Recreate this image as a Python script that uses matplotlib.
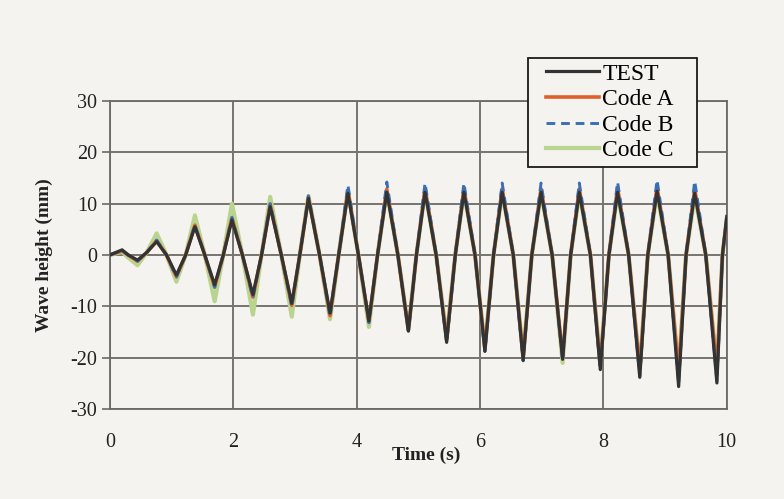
import matplotlib
matplotlib.use("Agg")
import matplotlib.pyplot as plt
from matplotlib.lines import Line2D
from matplotlib.legend_handler import HandlerLine2D

# Temps des points (extrema et passages à zéro)
time_s = [0.0, 0.1, 0.2, 0.3, 0.45, 0.6, 0.76, 0.92, 1.08, 1.23, 1.38, 1.54, 1.70, 1.84,
          1.98, 2.15, 2.32, 2.46, 2.60, 2.78, 2.95, 3.08, 3.22, 3.40, 3.57, 3.71,
          3.86, 4.03, 4.20, 4.34, 4.49, 4.67, 4.84, 4.97, 5.11, 5.29, 5.46, 5.60,
          5.74, 5.92, 6.08, 6.22, 6.36, 6.54, 6.70, 6.84, 6.99, 7.17, 7.34, 7.47,
          7.61, 7.79, 7.95, 8.09, 8.23, 8.41, 8.59, 8.72, 8.87, 9.05, 9.22, 9.34,
          9.48, 9.66, 9.84, 9.93, 10.0]

test = [0.0, 0.5, 1.0, 0.0, -1.0, 0.5, 2.6, 0.0, -3.9, 0.0, 5.5, 0.0, -5.8, 0.0,
        6.8, 0.0, -7.7, 0.0, 9.4, 0.0, -9.4, 0.0, 11.0, 0.0, -11.3, 0.0,
        12.0, 0.0, -12.8, 0.0, 12.2, 0.0, -14.8, 0.0, 12.2, 0.0, -17.0, 0.0,
        12.2, 0.0, -18.7, 0.0, 12.2, 0.0, -20.5, 0.0, 12.2, 0.0, -20.3, 0.0,
        12.2, 0.0, -22.3, 0.0, 12.2, 0.0, -23.8, 0.0, 12.4, 0.0, -25.6, 0.0,
        12.0, 0.0, -24.9, 0.0, 7.5]

code_a = [0.0, 0.4, 0.8, 0.0, -1.2, 0.5, 2.8, 0.0, -4.2, 0.0, 5.8, 0.0, -6.2, 0.0,
          7.2, 0.0, -8.2, 0.0, 9.8, 0.0, -9.8, 0.0, 11.2, 0.0, -11.8, 0.0,
          12.6, 0.0, -13.0, 0.0, 12.8, 0.0, -14.6, 0.0, 12.9, 0.0, -16.5, 0.0,
          12.9, 0.0, -18.2, 0.0, 12.9, 0.0, -20.0, 0.0, 12.9, 0.0, -20.0, 0.0,
          12.9, 0.0, -21.5, 0.0, 13.0, 0.0, -22.3, 0.0, 13.2, 0.0, -23.0, 0.0,
          12.8, 0.0, -22.5, 0.0, 7.0]

code_b = [0.0, 0.4, 0.8, 0.0, -1.2, 0.5, 2.9, 0.0, -4.3, 0.0, 5.9, 0.0, -6.3, 0.0,
          7.3, 0.0, -8.3, 0.0, 10.0, 0.0, -10.0, 0.0, 11.5, 0.0, -12.0, 0.0,
          13.6, 0.0, -13.2, 0.0, 14.2, 0.0, -14.8, 0.0, 14.0, 0.0, -17.0, 0.0,
          14.0, 0.0, -18.8, 0.0, 14.0, 0.0, -20.6, 0.0, 14.0, 0.0, -20.5, 0.0,
          14.0, 0.0, -22.4, 0.0, 14.2, 0.0, -23.6, 0.0, 14.6, 0.0, -25.0, 0.0,
          14.4, 0.0, -24.5, 0.0, 7.0]

code_c = [0.0, 0.3, 0.6, -0.5, -2.0, 0.5, 4.2, 0.0, -5.2, 0.0, 7.7, 0.0, -9.0, 0.0,
          10.0, 0.0, -11.6, 0.0, 11.3, 0.0, -12.0, 0.0, 11.5, 0.0, -12.5, 0.0,
          12.5, 0.0, -14.0, 0.0, 12.4, 0.0, -14.5, 0.0, 12.4, 0.0, -16.0, 0.0,
          12.2, 0.0, -18.0, 0.0, 12.2, 0.0, -19.5, 0.0, 12.2, 0.0, -21.0, 0.0,
          12.0, 0.0, -21.0, 0.0, 12.0, 0.0, -22.0, 0.0, 12.0, 0.0, -22.5, 0.0,
          11.5, 0.0, -22.0, 0.0, 7.0]

x_ticks = [0, 2, 4, 6, 8, 10]
y_ticks = [-30, -20, -10, 0, 10, 20, 30]

paper = "#f4f3ef"
plt.rcParams["font.family"] = ["Liberation Serif", "DejaVu Serif"]
plt.rcParams["axes.unicode_minus"] = False

fig = plt.figure(figsize=(7.84, 4.99), dpi=100, facecolor=paper)
ax = fig.add_axes([0.140, 0.180, 0.787, 0.618], facecolor=paper)

# Tracer les séries (C dessous, TEST au-dessus)
ax.plot(time_s, code_c, color="#b9d48e", lw=3.0, label="Code C", zorder=2)
ax.plot(time_s, code_a, color="#e0602a", lw=2.6, label="Code A", zorder=3)
ax.plot(time_s, code_b, color="#3a6fb5", lw=2.1, ls=(0, (3, 2)), label="Code B", zorder=4)
ax.plot(time_s, test, color="#333333", lw=2.3, label="TEST", zorder=5)

ax.set_xlim(0, 10)
ax.set_ylim(-30, 30)
ax.set_xticks(x_ticks)
ax.set_yticks(y_ticks)
ax.grid(True, color="#777470", lw=1.4)
ax.set_axisbelow(True)
for side in ax.spines.values():
    side.set_color("#6a6a6a")
    side.set_linewidth(1.3)

ax.tick_params(axis="x", length=0, pad=17, labelsize=14.5, colors="#222222")
ax.tick_params(axis="y", length=6, width=1.2, color="#6a6a6a", pad=3, labelsize=14.5,
               labelcolor="#222222")

ax.set_xlabel("Time (s)", fontsize=14, fontweight="bold", color="#222222")
ax.xaxis.set_label_coords(0.513, -0.123)
ax.set_ylabel("Wave height (mm)", fontsize=14, fontweight="bold", color="#222222")
ax.yaxis.set_label_coords(-0.092, 0.5)

# Légende dans l'ordre d'origine, boîte de largeur fixe
handles, labels = ax.get_legend_handles_labels()
order = [labels.index(n) for n in ["TEST", "Code A", "Code B", "Code C"]]
leg = fig.legend([handles[i] for i in order], [labels[i] for i in order],
                 loc="upper left", bbox_to_anchor=(528 / 784, 1 - 168 / 499, 169 / 784, 110 / 499),
                 mode="expand", fontsize=17,
                 frameon=True, fancybox=False, edgecolor="#1a1a1a", facecolor=paper,
                 framealpha=1, handlelength=2.8, handletextpad=0.13, labelspacing=0.17,
                 borderpad=0.22, borderaxespad=0,
                 handler_map={Line2D: HandlerLine2D(xpad=0.55)})
leg.get_frame().set_linewidth(1.3)

fig.savefig("out.png", dpi=100, facecolor=paper)
